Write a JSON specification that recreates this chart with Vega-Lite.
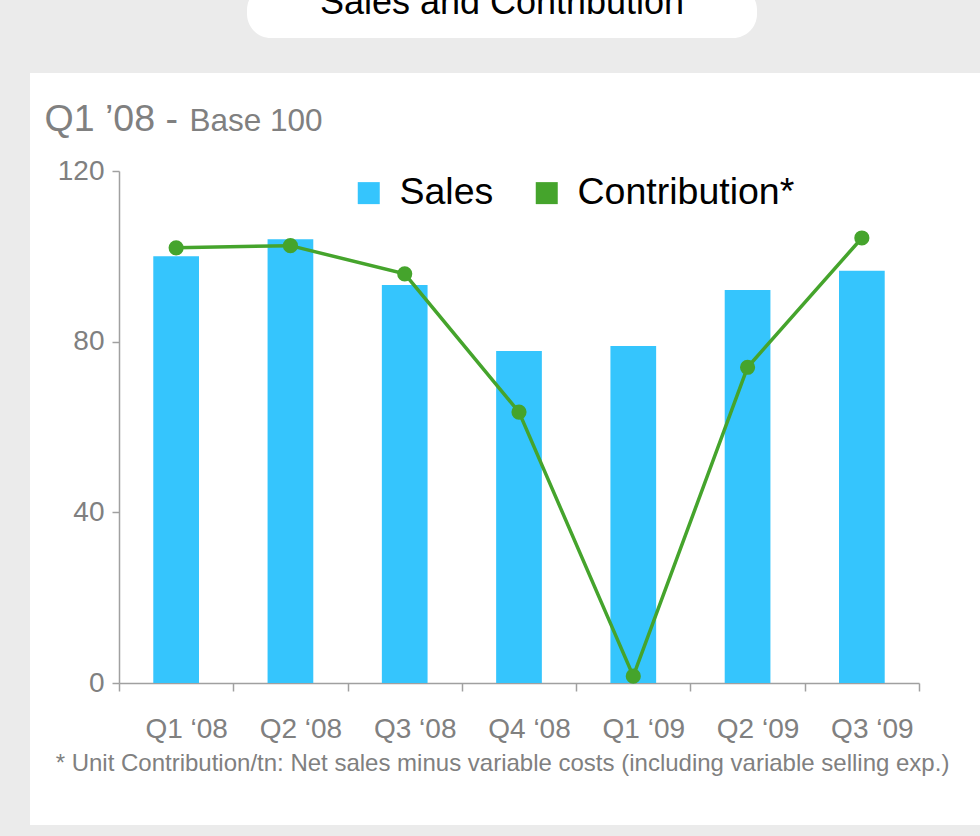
{
  "$schema": "https://vega.github.io/schema/vega-lite/v6.json",
  "width": 950,
  "height": 752,
  "autosize": "none",
  "padding": {"left": 30, "top": 73, "right": 0, "bottom": 11},
  "background": "#ebebeb",
  "config": {
    "view": {"fill": "white", "stroke": null},
    "font": "Liberation Sans",
    "axis": {"grid": false, "labelFont": "Liberation Sans", "titleFont": "Liberation Sans", "labelColor": "#808080", "titleColor": "#808080", "titleFontWeight": "normal", "domainColor": "#a0a0a0", "tickColor": "#a0a0a0", "domainWidth": 1.5, "tickWidth": 1.5}
  },
  "data": {"values": [
    {"quarter": "Q1 ‘08", "series": "Sales", "value": 100},
    {"quarter": "Q2 ‘08", "series": "Sales", "value": 104},
    {"quarter": "Q3 ‘08", "series": "Sales", "value": 93.3},
    {"quarter": "Q4 ‘08", "series": "Sales", "value": 77.8},
    {"quarter": "Q1 ‘09", "series": "Sales", "value": 79},
    {"quarter": "Q2 ‘09", "series": "Sales", "value": 92.1},
    {"quarter": "Q3 ‘09", "series": "Sales", "value": 96.6},
    {"quarter": "Q1 ‘08", "series": "Contribution*", "value": 102},
    {"quarter": "Q2 ‘08", "series": "Contribution*", "value": 102.5},
    {"quarter": "Q3 ‘08", "series": "Contribution*", "value": 95.9},
    {"quarter": "Q4 ‘08", "series": "Contribution*", "value": 63.5},
    {"quarter": "Q1 ‘09", "series": "Contribution*", "value": 1.6},
    {"quarter": "Q2 ‘09", "series": "Contribution*", "value": 74},
    {"quarter": "Q3 ‘09", "series": "Contribution*", "value": 104.3}
  ]},
  "encoding": {
    "x": {"field": "quarter", "type": "nominal", "sort": null,
      "scale": {"range": [89, 889], "paddingInner": 0, "paddingOuter": 0},
      "axis": {"orient": "bottom", "offset": -142, "tickBand": "extent", "tickSize": 8, "labelPadding": 24, "labelFontSize": 28, "labelAngle": 0, "labelBaseline": "top", "labelOffset": 10,
        "title": "* Unit Contribution/tn: Net sales minus variable costs (including variable selling exp.)", "titleFontSize": 24, "titleX": 472, "titleY": 87, "titleAnchor": null, "titleAlign": "center", "titleBaseline": "alphabetic"}}
  },
  "layer": [
    {
      "transform": [{"filter": "datum.series === 'Sales'"}],
      "mark": {"type": "bar", "width": {"band": 0.4}},
      "encoding": {
        "y": {"field": "value", "type": "quantitative", "scale": {"domain": [0, 120], "range": [610, 98], "nice": false, "zero": true},
          "axis": {"orient": "left", "offset": -89, "values": [0, 40, 80, 120], "tickSize": 7, "labelPadding": 8, "labelFontSize": 28,
            "title": "Q1 ’08 -", "titleFontSize": 37.5, "titleAngle": 0, "titleAlign": "left", "titleBaseline": "alphabetic", "titleX": -75, "titleY": 57}},
        "color": {"field": "series", "type": "nominal",
          "scale": {"domain": ["Sales", "Contribution*"], "range": ["#35c5fd", "#45a42c"]},
          "legend": {"orient": "none", "legendX": 320, "legendY": 101, "direction": "horizontal", "title": null, "symbolType": "square", "symbolSize": 484, "symbolStrokeWidth": 0, "labelFontSize": 37.5, "labelLimit": 500, "labelColor": "black", "labelFont": "Liberation Sans", "columnPadding": 34, "labelOffset": 12}}
      }
    },
    {
      "transform": [{"filter": "datum.series === 'Contribution*'"}],
      "mark": {"type": "line", "color": "#45a42c", "strokeWidth": 3.5},
      "encoding": {
        "y": {"field": "value", "type": "quantitative",
          "axis": {"orient": "right", "domain": false, "ticks": false, "labels": false, "title": "Base 100", "titleFontSize": 31.5, "titleAngle": 0, "titleAlign": "left", "titleBaseline": "alphabetic", "titleX": -791, "titleY": 57}}
      }
    },
    {
      "transform": [{"filter": "datum.series === 'Contribution*'"}],
      "mark": {"type": "point", "filled": true, "opacity": 1, "color": "#45a42c", "size": 230, "strokeWidth": 0},
      "encoding": {
        "y": {"field": "value", "type": "quantitative", "axis": null},
        "stroke": {"field": "value", "type": "quantitative", "scale": {"range": ["transparent", "transparent"]},
          "legend": {"orient": "none", "legendX": 217, "legendY": -87, "direction": "horizontal", "gradientLength": 510, "gradientThickness": 12, "gradientStrokeWidth": 0, "gradientOpacity": 0,
            "title": "Sales and Contribution", "titleFontSize": 36, "titleFontWeight": "normal", "titleColor": "black", "titleFont": "Liberation Sans", "titleAnchor": "middle", "titlePadding": 0, "titleLimit": 600,
            "labelOpacity": 0, "labelFontSize": 4, "labelOffset": 0, "fillColor": "white", "cornerRadius": 24, "padding": 0}}
      }
    }
  ],
  "resolve": {"axis": {"y": "independent"}}
}
